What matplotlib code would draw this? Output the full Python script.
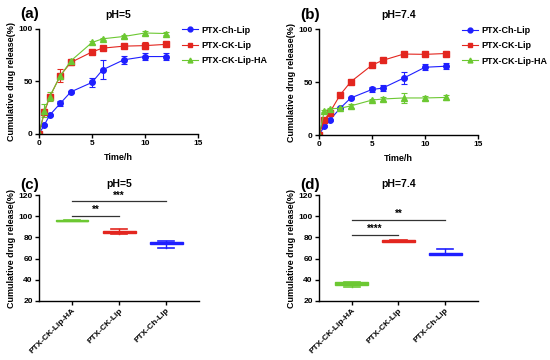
import matplotlib.pyplot as plt
from matplotlib.lines import Line2D

plt.rcParams['font.family'] = ['Liberation Sans', 'DejaVu Sans']
plt.rcParams['font.weight'] = 'bold'

# release curves
time_h = [0, 0.5, 1, 2, 3, 5, 6, 8, 10, 12]
series_names = ['PTX-Ch-Lip', 'PTX-CK-Lip', 'PTX-CK-Lip-HA']
colors = ['#1f1fff', '#e3261f', '#6cc832']
markers = ['o', 's', '^']

ph5_mean = [
    [0, 8.6, 17.8, 29, 40, 49, 61, 70.5, 73.6, 73.6],
    [0, 20.6, 35, 55.5, 68, 78, 81.6, 83.5, 84, 85.2],
    [0, 22, 35.5, 55, 69.5, 87, 90.5, 92.7, 96, 95.5],
]
ph5_err = [
    [0, 1, 1, 2, 1, 4, 9, 4, 3, 3],
    [0, 2, 2, 6, 2, 2, 1.5, 2, 3, 2],
    [0, 6, 4, 2, 1, 1, 1, 1, 2, 1],
]
ph74_mean = [
    [0, 8.2, 14, 25.3, 35, 43, 44.3, 53.8, 64, 65],
    [0, 14, 21, 38, 50.3, 66, 70.5, 76.5, 76.2, 77],
    [0, 22.5, 24.7, 25.3, 27.5, 33, 34, 35, 35, 35.5],
]
ph74_err = [
    [0, 1, 1, 1, 1, 2, 3, 6, 3, 3],
    [0, 1, 1, 1, 1, 1, 1, 1, 1, 1],
    [0, 1, 1, 1, 2, 1, 2, 5, 2, 2],
]

# box summaries at 12 h: (min, q1, median, q3, max)
box_labels = ['PTX-CK-Lip-HA', 'PTX-CK-Lip', 'PTX-Ch-Lip']
box_colors = ['#6cc832', '#e3261f', '#1f1fff']
ph5_box = [(95.2, 95.2, 95.8, 96.5, 96.5), (83.5, 84, 85, 86.5, 88), (70, 73.5, 74.5, 76, 76.5)]
ph74_box = [(33.2, 35.5, 36.5, 38, 38), (75.5, 75.5, 76.5, 77.5, 77.5), (63, 63, 64, 65, 69)]
ph5_sig = [(1, 2, 100, '**'), (1, 3, 114, '***')]
ph74_sig = [(1, 2, 82, '****'), (1, 3, 96.7, '**')]

fig = plt.figure(figsize=(5.5, 3.6), dpi=100)


def style(ax):
    for s in ['top', 'right']:
        ax.spines[s].set_visible(False)
    for s in ['left', 'bottom']:
        ax.spines[s].set_linewidth(1.0)
    ax.tick_params(labelsize=6, width=1, length=3, direction='out', pad=1.5)
    for t in ax.get_xticklabels() + ax.get_yticklabels():
        t.set_fontweight('bold')


def release(ax, means, errs, title, tag):
    for m, e, c, mk in zip(means, errs, colors, markers):
        ax.errorbar(time_h, m, yerr=e, color=c, marker=mk, markersize=4,
                    lw=0.8, elinewidth=0.8, capsize=2, capthick=0.8)
    ax.set_xlim(0, 15)
    ax.set_ylim(0, 100)
    ax.set_xticks([0, 5, 10, 15])
    ax.set_yticks([0, 50, 100])
    ax.set_xlabel('Time/h', fontsize=6.5, fontweight='bold', labelpad=4)
    ax.set_ylabel('Cumulative drug release(%)', fontsize=6.5, fontweight='bold', labelpad=2)
    ax.set_title(title, fontsize=7.5, fontweight='bold', pad=8)
    ax.text(-0.12, 1.07, tag, transform=ax.transAxes, fontsize=11, fontweight='bold', va='bottom')
    handles = [Line2D([], [], color=c, marker=mk, markersize=3.5, lw=0.8)
               for c, mk in zip(colors, markers)]
    ax.legend(handles, series_names, loc='upper left', bbox_to_anchor=(0.9, 1.03),
              frameon=False, handlelength=1.8, handletextpad=0.35, labelspacing=0.7,
              borderaxespad=0, borderpad=0, prop={'weight': 'bold', 'size': 6.5})
    style(ax)


def boxes(ax, stats, sig, title, tag):
    bs = []
    for (lo, q1, med, q3, hi), lab in zip(stats, box_labels):
        bs.append({'whislo': lo, 'q1': q1, 'med': med, 'q3': q3, 'whishi': hi, 'label': lab})
    art = ax.bxp(bs, positions=[1, 2, 3], widths=0.7, showfliers=False, patch_artist=True)
    for i, c in enumerate(box_colors):
        art['boxes'][i].set(facecolor=c, edgecolor=c, linewidth=1)
        art['medians'][i].set(color=c, linewidth=1)
        for w in art['whiskers'][2 * i:2 * i + 2]:
            w.set(color=c, linewidth=1)
        for cp in art['caps'][2 * i:2 * i + 2]:
            cp.set(color=c, linewidth=1.2)
    for a, b, y, txt in sig:
        ax.plot([a, b], [y, y], color='#333333', lw=0.9)
        ax.text((a + b) / 2, y + 1, txt, ha='center', va='bottom', fontsize=7, fontweight='bold')
    ax.set_xlim(0.3, 3.7)
    ax.set_ylim(20, 120)
    ax.set_yticks([20, 40, 60, 80, 100, 120])
    ax.set_xticklabels(box_labels, rotation=45, ha='right', rotation_mode='anchor', fontsize=6)
    ax.set_ylabel('Cumulative drug release(%)', fontsize=6.5, fontweight='bold', labelpad=2)
    ax.set_title(title, fontsize=7.5, fontweight='bold', pad=6)
    ax.text(-0.12, 1.03, tag, transform=ax.transAxes, fontsize=11, fontweight='bold', va='bottom')
    style(ax)


ax_a = fig.add_axes([0.071, 0.628, 0.289, 0.292])
ax_b = fig.add_axes([0.580, 0.625, 0.289, 0.294])
ax_c = fig.add_axes([0.071, 0.164, 0.291, 0.294])
ax_d = fig.add_axes([0.580, 0.164, 0.289, 0.294])

release(ax_a, ph5_mean, ph5_err, 'pH=5', '(a)')
release(ax_b, ph74_mean, ph74_err, 'pH=7.4', '(b)')
boxes(ax_c, ph5_box, ph5_sig, 'pH=5', '(c)')
boxes(ax_d, ph74_box, ph74_sig, 'pH=7.4', '(d)')

fig.savefig('out.png', dpi=100)
